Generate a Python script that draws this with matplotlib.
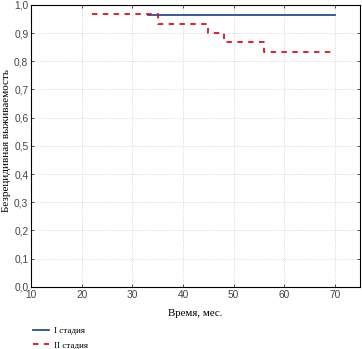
import numpy as np
from matplotlib import pyplot as plt
from matplotlib.ticker import FuncFormatter

# stage I: survival curve (time in months, survival)
time1 = [33, 70]
surv1 = [0.963, 0.963]

# stage II
time2 = [22, 35, 45, 48, 56, 70]
surv2 = [0.967, 0.933, 0.900, 0.867, 0.833, 0.833]

xticks = [10, 20, 30, 40, 50, 60, 70]
yticks = [0.0, 0.1, 0.2, 0.3, 0.4, 0.5, 0.6, 0.7, 0.8, 0.9, 1.0]

fig = plt.figure(figsize=(3.62, 3.49), dpi=100)
ax = fig.add_axes([0.086, 0.178, 0.909, 0.808])

ax.step(time1, surv1, where='post', color='#2b4a9a', lw=1.3, label='I стадия')
ax.step(time2, surv2, where='post', color='#e0101c', lw=1.3,
        dashes=(3, 3), label='II стадия')

ax.set_xlim(10, 75)
ax.set_ylim(0, 1.0)
ax.set_xticks(xticks)
ax.set_yticks(yticks)
ax.yaxis.set_major_formatter(FuncFormatter(lambda v, p: ('%.1f' % v).replace('.', ',')))
ax.tick_params(labelsize=7.3, length=2, width=0.6, pad=2, colors='#333333',
               labelcolor='#444444')
for lab in ax.get_xticklabels() + ax.get_yticklabels():
    lab.set_family('Liberation Sans')

# inward ticks on the top and right, as in the original export
ax.tick_params(top=True, right=True, direction='in', which='both')
ax.grid(True, color='#cccccc', linestyle=':', linewidth=0.6)
for s in ax.spines.values():
    s.set_linewidth(0.8)

ax.set_xlabel('Время, мес.', family='Liberation Serif', fontsize=7.8, labelpad=7)
ax.set_ylabel('Безрецидивная выживаемость', family='Liberation Serif',
              fontsize=8.0)
ax.yaxis.set_label_coords(-0.062, 0.52)

leg = fig.legend(loc='lower left', bbox_to_anchor=(0.07, -0.025), frameon=False,
                 prop={'family': 'Liberation Serif', 'size': 6.5},
                 handlelength=1.7, labelspacing=0.65, handletextpad=0.6)

plt.savefig('out.png', dpi=100)
